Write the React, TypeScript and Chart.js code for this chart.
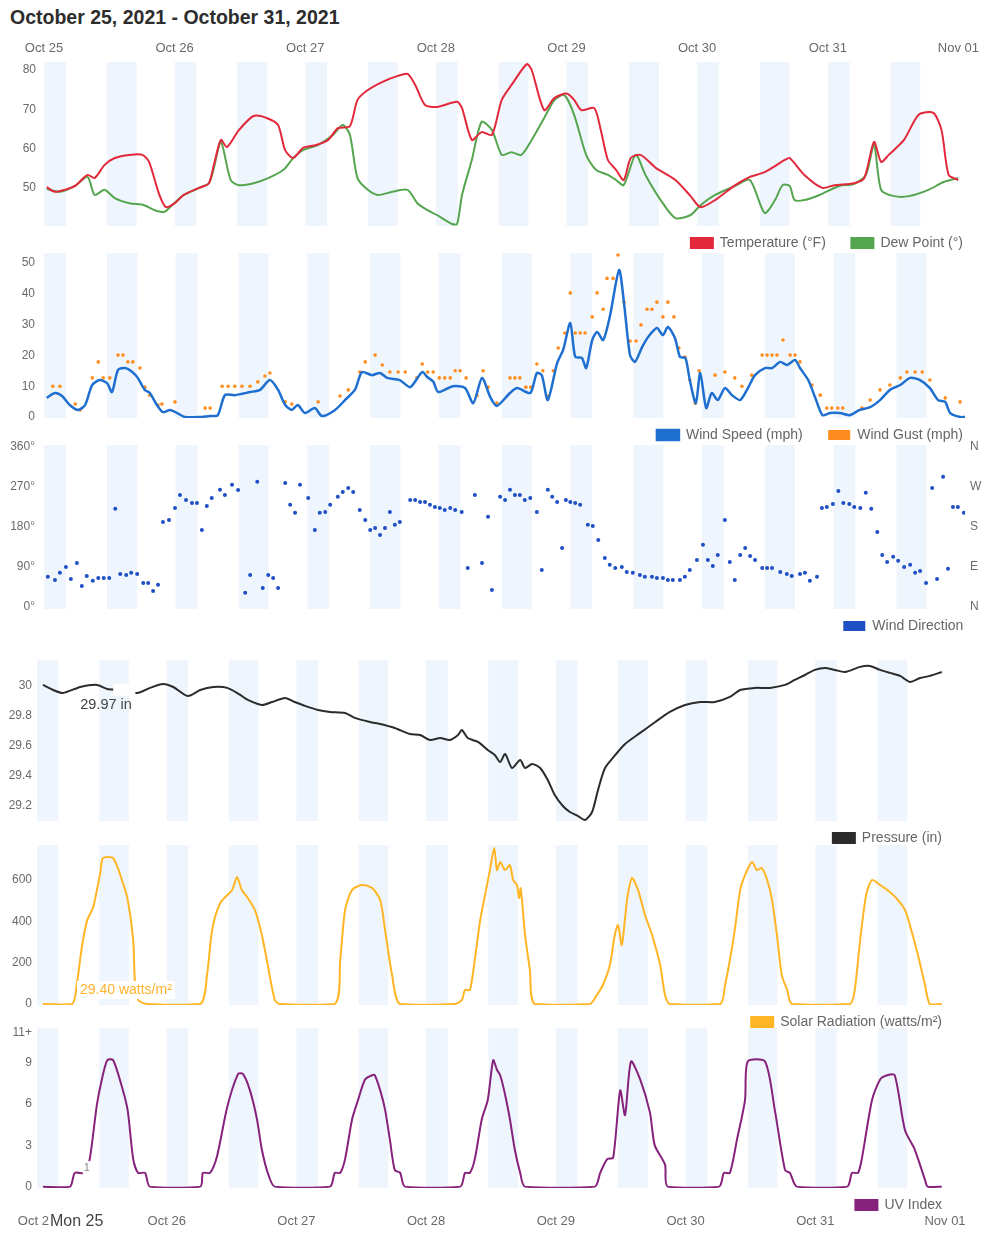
import React, { useEffect, useRef } from "react";
import { Chart, registerables } from "chart.js";

Chart.register(...registerables);

type Pt = [number, number];

const FONT = "'Liberation Sans', Arial, Helvetica, sans-serif";
const TICK_COLOR = "#6a6a6a";
const LEGEND_COLOR = "#666666";

// x axis: hours since Oct 25 00:00
const dayTickHours = [0, 24, 48, 72, 96, 120, 144, 168];
const dayTickLabels = ["Oct 25", "Oct 26", "Oct 27", "Oct 28", "Oct 29", "Oct 30", "Oct 31", "Nov 01"];

// light background bands (hour ranges)
const shadeBands: Pt[] = [
  [0, 4], [11.5, 17], [24, 28], [35.5, 41], [48, 52], [59.5, 65], [72, 76], [83.5, 89],
  [96, 100], [107.5, 113], [120, 124], [131.5, 137], [144, 148], [155.5, 161],
];

const temperature: Pt[] = [
  [0.5, 50.2], [2.0, 49], [3.8, 49.5], [5.7, 50.5], [8.0, 53.3], [9.3, 52.5], [11.1, 55.8], [13.0, 57.6],
  [15.7, 58.4], [18.1, 58.4], [19.3, 56.6], [21.2, 48.2], [22.4, 45.1], [23.9, 46], [25.7, 48.2], [28.5, 50],
  [30.3, 51.2], [31.2, 55.8], [32.5, 62.2], [33.6, 60.4], [35.8, 64.7], [38.5, 68.3], [40.9, 67.8], [43.0, 66],
  [44.3, 59.6], [45.8, 57.6], [47.6, 60.2], [50.0, 60.9], [52.2, 62.2], [54.0, 65.2], [56.2, 65.7], [57.6, 72.4],
  [59.5, 74.9], [62.2, 77], [65.0, 78.5], [66.8, 79], [68.2, 76.2], [70.0, 71.1], [72.2, 70.6], [75.9, 71.9],
  [76.8, 70.3], [78.6, 62.2], [80.4, 64.2], [82.3, 63.5], [84.1, 72.4], [85.9, 76.2], [88.7, 81.5], [89.6, 80],
  [91.9, 69.8], [93.8, 72.9], [96.0, 74], [97.4, 72.4], [98.7, 69.8], [101.1, 70.3], [102.3, 64.7], [103.6, 57.1],
  [105.1, 54.6], [106.5, 52], [107.8, 57.6], [109.6, 58.4], [112.4, 55.1], [116.0, 52], [118.8, 47.9], [120.6, 45.1],
  [123.3, 46.9], [127.0, 50.7], [129.7, 52.8], [132.4, 54], [136.1, 57.1], [137.0, 57.6], [139.7, 53.3], [143.0, 50],
  [145.2, 50.7], [148.8, 51.2], [150.7, 52.5], [152.5, 61.7], [153.8, 56.6], [155.2, 58.4], [158.0, 62.2], [160.7, 68.6],
  [163.4, 69.1], [164.9, 64.7], [166.2, 53.3], [168.0, 52],
];

const dewPoint: Pt[] = [
  [0.5, 49.7], [2.9, 49], [5.7, 50.5], [8.0, 52.8], [9.3, 48.2], [11.1, 49.5], [13.0, 47.4], [15.7, 46.1],
  [18.4, 45.6], [20.2, 44.4], [22.1, 43.9], [23.9, 46.1], [25.7, 48.2], [28.5, 50], [30.3, 51.2], [31.2, 55],
  [32.5, 61.7], [34.3, 52], [35.8, 50.7], [38.5, 51.2], [41.2, 52.5], [44.0, 54.6], [45.8, 57.6], [47.6, 59.6],
  [50.3, 60.9], [53.1, 63.5], [54.9, 66], [56.2, 63.5], [57.6, 52.5], [59.5, 49.5], [61.3, 48.2], [64.0, 49],
  [66.8, 49.5], [68.6, 46.1], [70.4, 44.4], [72.2, 43.1], [75.0, 40.8], [75.9, 40.8], [76.8, 48.2], [78.6, 57.1],
  [80.4, 66.8], [82.3, 64.7], [84.1, 58.4], [85.9, 59.1], [87.7, 58.4], [89.6, 62.2], [91.9, 67.8], [93.8, 72.4],
  [95.6, 73.6], [97.4, 68.6], [99.6, 58.4], [101.4, 54.6], [103.6, 53.3], [105.1, 52], [106.5, 50.7], [108.7, 58.4],
  [110.5, 53.3], [113.3, 46.9], [116.0, 42.3], [118.8, 43.1], [120.6, 45.6], [123.3, 48.2], [127.0, 50.5], [129.7, 52],
  [132.4, 43.6], [134.3, 46.9], [135.7, 50.7], [137.0, 50.5], [137.9, 46.9], [139.7, 46.9], [142.5, 48.2], [146.1, 50.5],
  [148.8, 51], [151.0, 53.3], [152.5, 61], [153.8, 49.5], [156.2, 47.9], [158.9, 47.9], [162.5, 49.5], [165.3, 51.5],
  [168.0, 52.5],
];

const windSpeed: Pt[] = [
  [0.5, 6.2], [2.0, 7.8], [3.3, 6.8], [4.7, 3.9], [6.2, 2.3], [7.5, 3.9], [8.8, 10.4], [10.2, 12], [11.5, 11], [12.4, 8.1],
  [13.5, 15.3], [14.8, 15.9], [16.1, 14.6], [17.1, 12.7], [18.4, 8.8], [19.3, 7.8], [20.6, 3.9], [21.7, 1.6], [23.0, 2.3], [24.3, 1.3],
  [25.7, 0], [28.5, 0], [30.3, 0.3], [31.7, 0.6], [33.0, 7.1], [34.8, 7.1], [37.6, 8.1], [39.4, 8.8], [41.2, 12], [42.7, 8.8],
  [44.0, 3.9], [45.2, 2.3], [46.3, 3.9], [47.6, 1.3], [49.4, 2.9], [50.7, 0.3], [53.1, 2.3], [54.9, 5.5], [56.7, 8.8], [58.0, 14.6],
  [59.8, 13.6], [61.3, 14.3], [62.6, 12.7], [64.9, 12], [66.8, 9.7], [69.0, 14.6], [69.9, 13], [71.0, 11.5], [71.9, 8.1], [74.6, 10],
  [76.8, 9.4], [78.3, 4.5], [79.9, 12.7], [81.4, 6.5], [82.6, 3.6], [85.0, 7.8], [86.3, 9.4], [88.7, 7.8], [89.9, 14.3], [90.8, 13.6],
  [91.9, 5.5], [93.6, 17.5], [94.7, 21.8], [96.0, 30.5], [96.9, 19.5], [98.1, 19.2], [98.9, 15.9], [100.0, 25], [100.9, 27.6], [102.0, 25],
  [103.2, 32.5], [104.9, 47.7], [105.8, 37], [106.9, 20.1], [107.8, 17.9], [109.1, 22.7], [110.2, 26], [111.8, 28.9], [112.9, 26.6], [113.8, 29.2],
  [115.1, 25.6], [116.0, 19.5], [117.0, 19.2], [117.8, 12], [118.9, 4.5], [119.7, 14.3], [120.8, 2.9], [121.8, 7.8], [122.9, 5.5], [124.2, 9.4],
  [125.5, 7.1], [127.0, 5.5], [128.4, 9.4], [129.7, 13.6], [131.5, 15.9], [132.8, 15.9], [134.3, 17.9], [135.5, 16.9], [137.0, 18.5], [137.9, 15.9],
  [139.4, 12], [140.7, 6.2], [142.0, 0.6], [143.4, 1.3], [145.2, 1.3], [147.0, 0.6], [148.8, 2.3], [150.7, 3.2], [152.5, 5.5], [154.3, 8.8],
  [156.2, 10.4], [158.0, 12.7], [159.8, 12], [161.6, 9.4], [163.1, 5.5], [164.4, 4.9], [165.3, 1.3], [167.1, 0], [168.0, 0],
];

const windGust: Pt[] = [
  [1.6, 10], [2.9, 10], [5.7, 4.2], [6.6, 2.3], [8.8, 12.7], [9.9, 17.9], [10.8, 12.7], [12.0, 12.7], [13.5, 20.1], [14.4, 20.1],
  [15.3, 17.9], [16.2, 17.9], [17.5, 15.9], [18.4, 9.7], [19.3, 7.1], [20.8, 3.9], [21.5, 4.2], [23.9, 4.9], [29.4, 2.9], [30.3, 2.9],
  [32.5, 10], [33.6, 10], [34.8, 10], [36.1, 10], [37.6, 10], [39.0, 11.4], [40.3, 13.3], [41.2, 14.3], [44.0, 4.9], [45.2, 4.2],
  [50.0, 4.9], [54.0, 6.8], [55.5, 8.8], [57.6, 14.6], [58.6, 17.9], [60.4, 20.1], [61.7, 16.9], [63.1, 14.6], [64.6, 14.6], [65.9, 14.6],
  [68.0, 12.7], [69.0, 17.2], [70.0, 14.6], [71.0, 14.6], [72.1, 12.7], [73.1, 12.7], [74.1, 12.7], [75.0, 15], [75.9, 15], [77.0, 12.7],
  [79.0, 7], [80.1, 15], [81.0, 9.7], [82.6, 4.5], [85.0, 12.7], [85.9, 12.7], [86.8, 12.7], [87.9, 9.7], [88.8, 9.7], [89.9, 17.2],
  [91.0, 15], [91.9, 6.8], [92.9, 15], [93.8, 22.4], [95.0, 27.3], [96.0, 40.3], [96.9, 27.3], [97.8, 27.3], [98.7, 27.3], [100.0, 32.5],
  [100.9, 40.3], [102.0, 35], [102.7, 45], [103.8, 45], [104.7, 52.6], [105.8, 37.3], [106.9, 24.7], [108.0, 24.7], [108.9, 29.9], [110.0, 35],
  [110.9, 35], [111.8, 37.3], [112.9, 32.5], [113.8, 37.3], [114.9, 32.5], [115.8, 22.4], [116.9, 19.5], [117.8, 12], [118.8, 4.5], [119.5, 15],
  [122.4, 13.6], [124.2, 14.6], [126.0, 12.7], [127.3, 10], [129.1, 13.6], [131.0, 20.1], [131.9, 20.1], [132.8, 20.1], [133.7, 20.1], [134.8, 25],
  [136.1, 20.1], [137.0, 20.1], [137.9, 17.9], [140.1, 10.4], [141.6, 7.1], [142.8, 2.9], [143.7, 2.9], [144.8, 2.9], [145.7, 2.9], [149.2, 2.9],
  [150.7, 5.5], [152.5, 8.8], [154.3, 10.4], [156.2, 12.7], [157.4, 14.6], [158.9, 14.6], [160.2, 14.6], [161.6, 12], [164.4, 6.2], [167.1, 4.9],
];

const windDirection: Pt[] = [
  [0.7, 68], [2.0, 61], [2.9, 77], [4.0, 90], [4.9, 63], [6.0, 99], [6.9, 47], [7.8, 70], [8.9, 59], [9.9, 65],
  [10.9, 65], [11.9, 65], [13.0, 221], [13.9, 74], [15.0, 72], [15.9, 77], [17.0, 74], [18.1, 54], [19.0, 54], [19.9, 36],
  [20.8, 50], [21.7, 191], [22.8, 196], [23.9, 223], [24.8, 252], [25.9, 241], [27.0, 234], [27.9, 234], [28.8, 173], [29.7, 227],
  [30.6, 245], [32.1, 264], [33.0, 252], [34.3, 275], [35.4, 263], [36.7, 32], [37.6, 72], [38.9, 282], [39.9, 43], [40.9, 72],
  [41.8, 65], [42.7, 43], [44.0, 279], [44.9, 230], [45.8, 212], [46.7, 275], [48.2, 245], [49.4, 173], [50.3, 212], [51.3, 214],
  [52.2, 230], [53.6, 248], [54.5, 259], [55.5, 268], [56.4, 259], [57.6, 218], [58.6, 196], [59.5, 173], [60.4, 178], [61.3, 162],
  [62.2, 178], [63.1, 214], [64.0, 185], [64.9, 191], [66.8, 241], [67.7, 241], [68.6, 236], [69.5, 236], [70.4, 230], [71.3, 225],
  [72.2, 223], [73.1, 218], [74.1, 223], [75.0, 218], [76.2, 214], [77.3, 88], [78.6, 252], [79.9, 99], [81.0, 203], [81.7, 38],
  [83.2, 248], [84.1, 241], [85.0, 264], [85.9, 252], [86.8, 252], [87.7, 241], [88.7, 245], [89.9, 214], [90.8, 83], [91.9, 264],
  [92.7, 248], [93.6, 236], [94.5, 133], [95.2, 241], [96.0, 236], [96.9, 234], [97.8, 230], [99.2, 185], [100.1, 182], [101.1, 151],
  [102.3, 110], [103.2, 95], [104.2, 88], [105.4, 90], [106.3, 79], [107.4, 77], [108.7, 72], [109.6, 68], [110.9, 68], [111.8, 65],
  [112.9, 65], [113.8, 61], [114.7, 61], [116.0, 61], [116.9, 68], [117.8, 83], [119.1, 106], [120.2, 140], [121.1, 106], [122.0, 92],
  [122.9, 117], [124.2, 196], [125.1, 101], [126.0, 61], [127.0, 117], [127.9, 133], [128.8, 115], [129.7, 106], [131.0, 88], [131.9, 88],
  [132.8, 88], [134.3, 79], [135.5, 74], [136.4, 70], [137.9, 74], [138.8, 77], [139.7, 59], [141.0, 68], [141.9, 223], [142.8, 225],
  [143.9, 232], [144.9, 261], [145.8, 234], [146.9, 232], [147.8, 225], [148.9, 223], [149.9, 257], [150.9, 221], [152.0, 169], [152.9, 117],
  [153.8, 101], [154.9, 113], [155.8, 104], [156.9, 90], [158.0, 95], [158.9, 77], [159.8, 81], [160.9, 54], [162.0, 268], [162.9, 63],
  [164.0, 293], [164.9, 86], [165.8, 225], [166.7, 225], [167.8, 212],
];

const pressure: Pt[] = [
  [1.1, 30.007], [3.0, 29.973], [4.8, 29.953], [8.0, 29.993], [11.1, 30.007], [13.0, 29.98], [15.4, 29.975], [18.5, 29.953],
  [20.9, 29.987], [23.3, 30.013], [25.2, 29.993], [27.9, 29.933], [30.2, 29.973], [32.6, 29.993], [35.2, 29.987], [37.6, 29.94],
  [39.0, 29.907], [41.6, 29.873], [43.5, 29.893], [45.9, 29.92], [47.7, 29.893], [49.6, 29.867], [52.0, 29.84], [54.2, 29.827],
  [57.0, 29.82], [58.8, 29.787], [61.6, 29.76], [63.5, 29.747], [66.2, 29.72], [69.0, 29.68], [70.9, 29.673], [72.7, 29.64],
  [74.6, 29.653], [76.4, 29.64], [77.9, 29.673], [78.6, 29.707], [79.7, 29.653], [81.6, 29.627], [83.4, 29.573], [84.7, 29.54],
  [85.7, 29.493], [86.6, 29.547], [87.9, 29.453], [89.4, 29.507], [90.3, 29.453], [91.6, 29.48], [93.1, 29.453], [94.5, 29.373],
  [95.8, 29.273], [97.3, 29.2], [98.6, 29.16], [100.1, 29.133], [101.4, 29.107], [102.7, 29.16], [103.8, 29.307], [105.1, 29.453],
  [107.0, 29.54], [108.8, 29.613], [111.6, 29.687], [114.4, 29.76], [117.1, 29.827], [119.9, 29.873], [122.7, 29.893], [125.4, 29.893],
  [128.2, 29.927], [130.1, 29.973], [132.8, 29.987], [135.6, 29.987], [138.4, 30.007], [140.2, 30.04], [142.1, 30.073], [143.9, 30.107],
  [145.8, 30.12], [147.6, 30.107], [149.5, 30.093], [152.3, 30.127], [154.1, 30.133], [156.0, 30.107], [157.8, 30.087], [159.7, 30.067],
  [161.5, 30.027], [163.4, 30.053], [165.2, 30.067], [167.4, 30.093],
];

const solarRadiation: Pt[] = [
  [1.1, 0], [6.5, 0], [7.4, 102], [8.3, 276], [9.3, 406], [10.4, 469], [11.7, 634], [12.2, 706], [14.1, 706], [15.9, 585],
  [16.8, 503], [17.8, 310], [18.1, 116], [18.7, 20], [20.4, 0], [30.2, 0], [31.5, 150], [32.4, 358], [33.9, 489], [36.1, 552],
  [37.0, 614], [37.9, 552], [39.0, 513], [40.3, 455], [41.6, 334], [42.7, 189], [44.0, 19], [44.9, 0], [55.1, 0], [56.1, 213],
  [57.0, 455], [58.3, 552], [60.1, 576], [62.0, 561], [63.5, 503], [64.4, 358], [65.7, 140], [67.2, 0], [77.3, 0], [78.6, 19],
  [79.2, 68], [80.1, 68], [81.0, 213], [82.0, 406], [82.9, 527], [83.8, 648], [84.6, 755], [85.1, 648], [85.7, 687], [86.6, 648],
  [87.5, 672], [88.1, 600], [88.8, 576], [89.2, 513], [89.5, 560], [90.3, 334], [91.2, 164], [92.1, 0], [102.3, 0], [103.6, 44],
  [104.7, 92], [106.0, 189], [106.9, 334], [107.5, 382], [108.2, 285], [108.8, 416], [109.3, 527], [110.1, 610], [111.2, 552], [112.5, 431],
  [113.8, 334], [115.3, 189], [116.2, 44], [117.1, 0], [126.4, 0], [127.3, 92], [128.2, 213], [129.1, 358], [130.1, 552], [131.0, 624],
  [132.3, 687], [133.2, 648], [134.1, 658], [135.1, 600], [136.0, 503], [136.9, 334], [137.8, 140], [138.8, 68], [139.7, 0], [150.4, 0],
  [151.3, 68], [152.2, 285], [153.4, 527], [154.5, 600], [156.0, 576], [157.8, 542], [159.3, 503], [160.6, 455], [161.5, 382], [163.0, 237],
  [164.3, 92], [165.2, 0], [167.4, 0],
];

const uvIndex: Pt[] = [
  [1.1, 0], [6.1, 0], [7.0, 1], [8.9, 1], [9.8, 2.1], [11.1, 6], [12.0, 7.8], [13.0, 9.2], [14.1, 9.2], [15.9, 7],
  [16.8, 5.5], [17.8, 2], [18.7, 1], [20.0, 1], [20.9, 0], [30.2, 0], [30.7, 1], [32.0, 1], [33.3, 2.2], [35.2, 5.8],
  [37.2, 8.2], [38.1, 8.2], [39.4, 7], [40.7, 4.9], [41.6, 2.7], [42.7, 1], [44.0, 0], [54.2, 0], [55.1, 1], [56.1, 1],
  [57.0, 2], [58.3, 4.9], [59.4, 6.3], [60.7, 7.8], [62.0, 8.1], [62.5, 8.1], [63.5, 7], [64.4, 5.6], [65.3, 3.4], [66.2, 1.2],
  [67.2, 1], [68.1, 0], [78.3, 0], [79.2, 1], [80.1, 1], [81.0, 2], [82.3, 4.9], [83.4, 6.3], [84.4, 9.2], [85.1, 8.5],
  [85.7, 8.1], [86.6, 6.7], [87.5, 4.9], [88.4, 2.7], [89.4, 1], [90.3, 0], [103.2, 0], [104.2, 1], [105.5, 2], [106.6, 2.1],
  [107.9, 7], [108.8, 5.2], [109.9, 9.1], [111.6, 7.8], [113.4, 5.4], [114.3, 3], [116.2, 1.6], [116.7, 0], [126.2, 0], [127.1, 1],
  [128.2, 1], [129.5, 3.4], [131.0, 6.3], [131.5, 9.1], [134.7, 9.1], [136.5, 5.6], [138.4, 1.2], [139.3, 1], [140.6, 0], [149.9, 0],
  [150.8, 1], [151.9, 1], [152.6, 2], [154.5, 6.3], [156.0, 7.8], [157.3, 8.1], [158.7, 8.1], [160.6, 4.1], [162.4, 2.7], [164.3, 0.5],
  [164.8, 0], [167.4, 0],
];

const toXY = (s: Pt[]) => s.map(([x, y]) => ({ x, y }));

const bandsPlugin = {
  id: "bands",
  beforeDatasetsDraw(chart: any) {
    const { ctx, chartArea: a, scales } = chart;
    const xs = scales.x;
    ctx.save();
    ctx.fillStyle = "rgba(214,230,247,0.38)";
    for (const [s, e] of shadeBands) {
      const x1 = xs.getPixelForValue(s);
      const x2 = xs.getPixelForValue(e);
      ctx.fillRect(x1, a.top, x2 - x1, a.bottom - a.top);
    }
    ctx.restore();
  },
};

type Spec = {
  key: string;
  top: number;
  height: number;
  padTop?: number;
  yWidth: number;
  yPad: number;
  padRight: number;
  rightW: number;
  yMin: number;
  yMax: number;
  yTicks: number[];
  yLabels: string[];
  xPos: "top" | "bottom" | "none";
  xHeight?: number;
  xPad?: number;
  rightTicks?: number[];
  rightLabels?: string[];
  legendTrail?: string;
  legendMaxHeight?: number;
  datasets: any[];
  extra?: any;
};

function makeLegendLabels(trail: string) {
  return (chart: any) => {
    const items = (Chart as any).defaults.plugins.legend.labels.generateLabels(chart);
    return items.map((it: any, i: number) =>
      i < items.length - 1 ? { ...it, text: it.text + "    " } : { ...it, text: it.text + trail }
    );
  };
}

function lineDs(label: string, data: Pt[], color: string, width = 2) {
  return {
    label,
    data: toXY(data),
    borderColor: color,
    backgroundColor: color,
    borderWidth: width,
    pointRadius: 0,
    tension: 0.25,
    fill: false,
  };
}

function dotDs(label: string, data: Pt[], color: string, r: number) {
  return {
    label,
    data: toXY(data),
    borderColor: color,
    backgroundColor: color,
    borderWidth: 0,
    pointRadius: r,
    pointBorderWidth: 0,
    showLine: false,
  };
}

function noVerticalPadding(sc: any) {
  sc.paddingTop = 0;
  sc.paddingBottom = 0;
}

function makeConfig(s: Spec) {
  const tickFont = { family: FONT, size: 12 };
  const scales: any = {
    x: {
      type: "linear",
      min: 0,
      max: 168,
      display: s.xPos !== "none",
      position: s.xPos === "top" ? "top" : "bottom",
      weight: 2000,
      grid: { display: false, drawTicks: false },
      border: { display: false },
      afterBuildTicks: (sc: any) => {
        sc.ticks = dayTickHours.map((v) => ({ value: v }));
      },
      ticks: {
        autoSkip: false,
        maxRotation: 0,
        padding: s.xPad ?? 0,
        color: TICK_COLOR,
        font: { family: FONT, size: 13 },
        callback: (_v: any, i: number) => dayTickLabels[i],
      },
      afterFit: (sc: any) => {
        sc.height = s.xHeight ?? 0;
      },
    },
    y: {
      type: "linear",
      position: "left",
      min: s.yMin,
      max: s.yMax,
      grid: { display: false, drawTicks: false },
      border: { display: false },
      afterBuildTicks: (sc: any) => {
        sc.ticks = s.yTicks.map((v) => ({ value: v }));
      },
      ticks: {
        padding: s.yPad,
        color: TICK_COLOR,
        font: tickFont,
        callback: (_v: any, i: number) => s.yLabels[i],
      },
      afterFit: (sc: any) => {
        sc.width = s.yWidth;
        noVerticalPadding(sc);
      },
    },
    y2: {
      type: "linear",
      axis: "y",
      position: "right",
      min: s.yMin,
      max: s.yMax,
      grid: { display: false, drawTicks: false },
      border: { display: false },
      afterBuildTicks: (sc: any) => {
        sc.ticks = (s.rightTicks || []).map((v) => ({ value: v }));
      },
      ticks: {
        display: !!s.rightTicks,
        padding: 5,
        color: TICK_COLOR,
        font: tickFont,
        callback: (_v: any, i: number) => (s.rightLabels || [])[i],
      },
      afterFit: (sc: any) => {
        sc.width = s.rightW;
        noVerticalPadding(sc);
      },
    },
  };
  const legend: any = {
    position: "bottom",
    align: "end",
    labels: {
      boxWidth: 22,
      boxHeight: 10,
      padding: 10,
      color: LEGEND_COLOR,
      font: { family: FONT, size: 14 },
      generateLabels: makeLegendLabels(s.legendTrail || ""),
    },
  };
  if (s.legendMaxHeight) legend.maxHeight = s.legendMaxHeight;
  return {
    type: "line",
    data: { datasets: s.datasets },
    options: {
      animation: false,
      responsive: false,
      devicePixelRatio: 1,
      layout: { padding: { left: 0, right: s.padRight, top: s.padTop ?? 0, bottom: 0 }, autoPadding: false },
      events: [],
      plugins: {
        tooltip: { enabled: false },
        legend,
      },
      scales,
    },
    plugins: s.extra ? [bandsPlugin, s.extra] : [bandsPlugin],
  };
}

const pressureReadout = { hour: 8, value: 29.873, text: "29.97 in", gapFrom: 14.1, gapTo: 18.2, gapValue: 29.975 };
const solarReadout = { hour: 7.96, value: 67.7, text: "29.40 watts/m\u00b2" };
const uvReadout = { hour: 9.2, value: 1.35, text: "1" };
const hoverDayLabel = "Mon 25";

const pressurePlugin = {
  id: "pressureReadout",
  afterDatasetsDraw(chart: any) {
    const { ctx, scales } = chart;
    const x = scales.x, y = scales.y;
    ctx.save();
    const gx1 = x.getPixelForValue(pressureReadout.gapFrom);
    const gx2 = x.getPixelForValue(pressureReadout.gapTo);
    const gy = y.getPixelForValue(pressureReadout.gapValue);
    ctx.fillStyle = "#ffffff";
    ctx.fillRect(gx1, gy - 6, gx2 - gx1, 12);
    ctx.fillStyle = "#444";
    ctx.font = `14.5px ${FONT}`;
    ctx.textAlign = "left";
    ctx.textBaseline = "middle";
    ctx.fillText(pressureReadout.text, x.getPixelForValue(pressureReadout.hour), y.getPixelForValue(pressureReadout.value));
    ctx.restore();
  },
};

const solarPlugin = {
  id: "solarReadout",
  afterDatasetsDraw(chart: any) {
    const { ctx, scales } = chart;
    const x = scales.x, y = scales.y;
    ctx.save();
    ctx.font = `14px ${FONT}`;
    const px = x.getPixelForValue(solarReadout.hour);
    const py = y.getPixelForValue(solarReadout.value);
    const w = ctx.measureText(solarReadout.text).width;
    ctx.fillStyle = "#ffffff";
    ctx.fillRect(px - 3, py - 9, w + 6, 18);
    ctx.fillStyle = "#ffb22e";
    ctx.textAlign = "left";
    ctx.textBaseline = "middle";
    ctx.fillText(solarReadout.text, px, py);
    ctx.restore();
  },
};

const uvPlugin = {
  id: "uvReadout",
  afterDatasetsDraw(chart: any) {
    const { ctx, scales } = chart;
    const x = scales.x, y = scales.y;
    ctx.save();
    const px = x.getPixelForValue(uvReadout.hour);
    const py = y.getPixelForValue(uvReadout.value);
    ctx.fillStyle = "#ffffff";
    ctx.fillRect(px - 4, py - 7, 8, 14);
    ctx.fillStyle = "#888";
    ctx.font = `11px ${FONT}`;
    ctx.textAlign = "center";
    ctx.textBaseline = "middle";
    ctx.fillText(uvReadout.text, px, py);
    ctx.restore();
  },
  afterDraw(chart: any) {
    const { ctx, scales } = chart;
    const x = scales.x;
    ctx.save();
    ctx.font = `16px ${FONT}`;
    const left = x.getPixelForValue(0) + 13;
    const cy = x.top + 10;
    const w = ctx.measureText(hoverDayLabel).width;
    ctx.fillStyle = "#ffffff";
    ctx.fillRect(left - 1, cy - 10, w + 4, 20);
    ctx.fillStyle = "#444";
    ctx.textAlign = "left";
    ctx.textBaseline = "middle";
    ctx.fillText(hoverDayLabel, left, cy);
    ctx.restore();
  },
};

const specs: Spec[] = [
  {
    key: "temp",
    top: 36, height: 224, yWidth: 44, yPad: 8, padRight: 12, rightW: 8,
    yMin: 40.3, yMax: 82.04, yTicks: [50, 60, 70, 80], yLabels: ["50", "60", "70", "80"],
    xPos: "top", xHeight: 26, xPad: 6,
    datasets: [
      lineDs("Temperature (\u00b0F)", temperature, "#e3283b"),
      lineDs("Dew Point (\u00b0)", dewPoint, "#55a54f"),
    ],
  },
  {
    key: "wind",
    top: 243, height: 209, padTop: 10, yWidth: 44, yPad: 9, padRight: 12, rightW: 8,
    yMin: -0.32, yMax: 53.25, yTicks: [0, 10, 20, 30, 40, 50], yLabels: ["0", "10", "20", "30", "40", "50"],
    xPos: "none",
    datasets: [
      lineDs("Wind Speed (mph)", windSpeed, "#1f6fd0", 2.5),
      dotDs("Wind Gust (mph)", windGust, "#ff8c1f", 1.8),
    ],
  },
  {
    key: "dir",
    top: 430, height: 213, padTop: 15, yWidth: 44, yPad: 9, padRight: 0, rightW: 20,
    yMin: -4.5, yMax: 364.5, yTicks: [0, 90, 180, 270, 360],
    yLabels: ["0\u00b0", "90\u00b0", "180\u00b0", "270\u00b0", "360\u00b0"],
    rightTicks: [0, 90, 180, 270, 360], rightLabels: ["N", "E", "S", "W", "N"],
    legendTrail: "   ",
    xPos: "none",
    datasets: [dotDs("Wind Direction", windDirection, "#1f4fc4", 2)],
  },
  {
    key: "pressure",
    top: 650, height: 205, padTop: 10, yWidth: 37, yPad: 5, padRight: 33, rightW: 7,
    yMin: 29.1, yMax: 30.173, yTicks: [29.2, 29.4, 29.6, 29.8, 30],
    yLabels: ["29.2", "29.4", "29.6", "29.8", "30"],
    xPos: "none",
    datasets: [lineDs("Pressure (in)", pressure, "#2b2b2b")],
    extra: pressurePlugin,
  },
  {
    key: "solar",
    top: 835, height: 204, padTop: 10, yWidth: 37, yPad: 5, padRight: 33, rightW: 7,
    yMin: -4.8, yMax: 769.4, yTicks: [0, 200, 400, 600], yLabels: ["0", "200", "400", "600"],
    xPos: "none",
    datasets: [lineDs("Solar Radiation (watts/m\u00b2)", solarRadiation, "#ffb524")],
    extra: solarPlugin,
  },
  {
    key: "uv",
    top: 1018, height: 216, padTop: 10, yWidth: 37, yPad: 5, padRight: 33, rightW: 7,
    yMin: -0.1, yMax: 11.54, yTicks: [0, 3, 6, 9, 11.2], yLabels: ["0", "3", "6", "9", "11+"],
    xPos: "bottom", xHeight: 22, xPad: 2, legendMaxHeight: 24,
    datasets: [lineDs("UV Index", uvIndex, "#86217c")],
    extra: uvPlugin,
  },
];

function Panel({ spec }: { spec: Spec }) {
  const ref = useRef<HTMLCanvasElement | null>(null);
  useEffect(() => {
    if (!ref.current) return;
    const chart = new Chart(ref.current, makeConfig(spec) as any);
    return () => chart.destroy();
  }, [spec]);
  return (
    <canvas
      ref={ref}
      width={985}
      height={spec.height}
      style={{ position: "absolute", left: 0, top: spec.top, width: 985, height: spec.height }}
    />
  );
}

export default function App() {
  return (
    <div style={{ position: "absolute", left: 0, top: 0, width: 985, height: 1234, background: "#fff", overflow: "hidden" }}>
      <div
        style={{
          position: "absolute",
          left: 10,
          top: 5,
          fontFamily: FONT,
          fontWeight: "bold",
          fontSize: 19.5,
          color: "#2d2d2d",
          whiteSpace: "nowrap",
          lineHeight: "24px",
        }}
      >
        October 25, 2021 - October 31, 2021
      </div>
      {specs.map((s) => (
        <Panel key={s.key} spec={s} />
      ))}
    </div>
  );
}
